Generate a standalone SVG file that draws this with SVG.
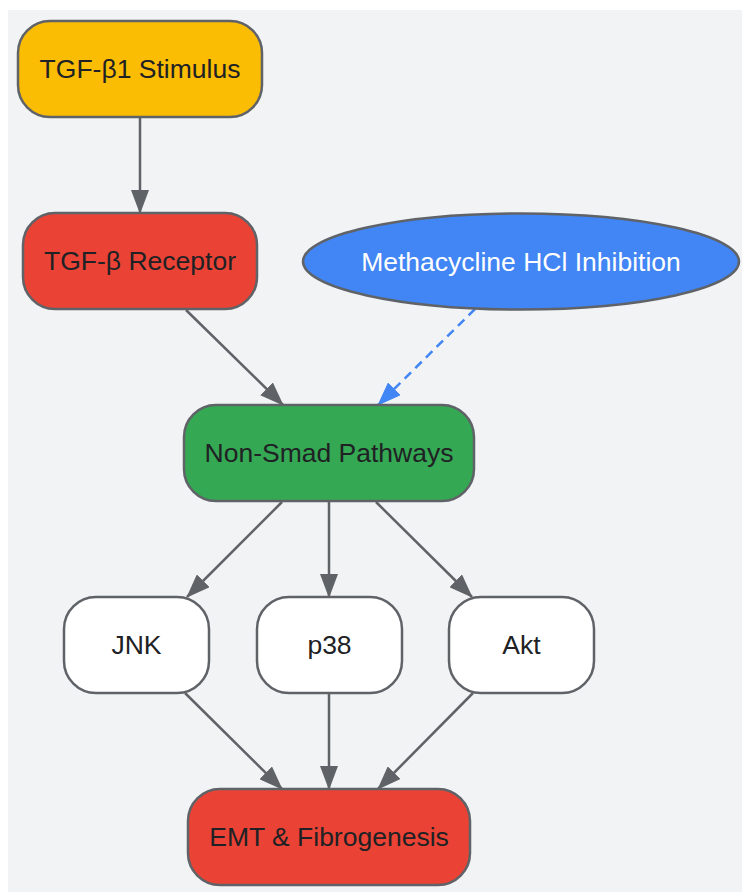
<svg xmlns="http://www.w3.org/2000/svg" width="742" height="892" viewBox="0 0 742 892">
<defs>
<style>
.n{stroke:#5f6368;stroke-width:2.5}
.t{font-family:"Liberation Sans",Arial,sans-serif;font-size:26.5px;fill:#202124;text-anchor:middle;dominant-baseline:central}
.e{stroke:#5f6368;stroke-width:2.5;fill:none;marker-end:url(#ah)}
.d{stroke:#4285f4;stroke-width:2.5;fill:none;stroke-dasharray:9,6;marker-end:url(#ab)}
</style>
<marker id="ah" viewBox="0 0 24 18" refX="23" refY="9" markerWidth="24" markerHeight="18" markerUnits="userSpaceOnUse" orient="auto"><path d="M0,0L24,9L0,18z" fill="#5f6368"/></marker>
<marker id="ab" viewBox="0 0 24 18" refX="23" refY="9" markerWidth="24" markerHeight="18" markerUnits="userSpaceOnUse" orient="auto"><path d="M0,0L24,9L0,18z" fill="#4285f4"/></marker>
</defs>
<rect x="8" y="10" width="734" height="882" fill="#f1f3f4"/>
<g id="connectors">
<path class="e" d="M140,118L140,213"/>
<path class="e" d="M186,310L283,405"/>
<path class="d" d="M475,309L378,405"/>
<path class="e" d="M282,502L187,597"/>
<path class="e" d="M329,502L329,597"/>
<path class="e" d="M376,502L472,597"/>
<path class="e" d="M185,693L282,789"/>
<path class="e" d="M329,693L329,789"/>
<path class="e" d="M473,693L378,789"/>
</g>
<g id="stimulus"><rect class="n" x="18" y="21" width="244" height="96" rx="32" fill="#fbbc04"/><text class="t" x="140" y="69">TGF-β1 Stimulus</text></g>
<g id="receptor"><rect class="n" x="23" y="213" width="234" height="96" rx="32" fill="#ea4335"/><text class="t" x="140" y="261">TGF-β Receptor</text></g>
<g id="inhibition"><ellipse class="n" cx="521" cy="261.5" rx="218" ry="48" fill="#4285f4"/><text class="t" x="521" y="261.5" style="fill:#ffffff">Methacycline HCl Inhibition</text></g>
<g id="nonsmad"><rect class="n" x="184" y="405" width="290" height="96" rx="32" fill="#34a853"/><text class="t" x="329" y="453">Non-Smad Pathways</text></g>
<g id="jnk"><rect class="n" x="64" y="597" width="145" height="96" rx="32" fill="#ffffff"/><text class="t" x="136.5" y="645">JNK</text></g>
<g id="p38"><rect class="n" x="257" y="597" width="145" height="96" rx="32" fill="#ffffff"/><text class="t" x="329.5" y="645">p38</text></g>
<g id="akt"><rect class="n" x="449" y="597" width="145" height="96" rx="32" fill="#ffffff"/><text class="t" x="521.5" y="645">Akt</text></g>
<g id="emt"><rect class="n" x="188" y="789" width="282" height="96" rx="32" fill="#ea4335"/><text class="t" x="329" y="837">EMT &amp; Fibrogenesis</text></g>
</svg>
